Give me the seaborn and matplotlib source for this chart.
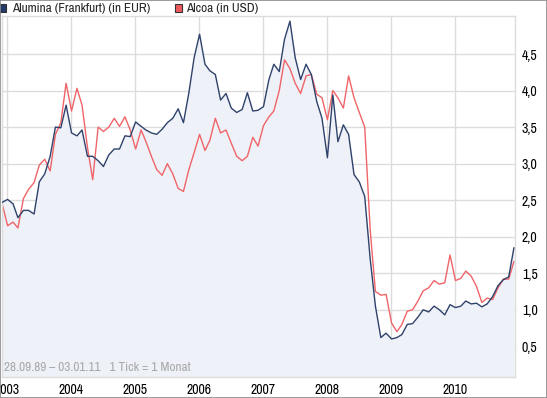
import matplotlib
matplotlib.use("Agg")
import matplotlib.pyplot as plt
import matplotlib.dates as mdates
from matplotlib.patches import Rectangle
from matplotlib.ticker import FuncFormatter
import pandas as pd
import seaborn as sns

# monthly closes, Dec 2002 .. Dec 2010
START = "2002-12-03"
YEARS = list(range(2003, 2011))

alumina_eur = [
    2.47, 2.51, 2.45, 2.26, 2.36, 2.36, 2.31, 2.75, 2.86, 3.10,
    3.50, 3.49, 3.80, 3.42, 3.38, 3.46, 3.10, 3.10, 3.04, 2.96,
    3.12, 3.20, 3.20, 3.38, 3.37, 3.57, 3.51, 3.46, 3.42, 3.40,
    3.47, 3.56, 3.62, 3.75, 3.56, 3.97, 4.45, 4.77, 4.36, 4.27,
    4.22, 3.87, 3.96, 3.76, 3.70, 3.74, 3.97, 3.72, 3.73, 3.78,
    4.15, 4.36, 4.26, 4.70, 4.95, 4.45, 4.15, 4.36, 4.22, 3.85,
    3.62, 3.08, 3.94, 3.30, 3.53, 3.40, 2.85, 2.75, 2.55, 1.70,
    1.05, 0.62, 0.68, 0.60, 0.62, 0.66, 0.80, 0.81, 0.90, 1.00,
    0.97, 1.05, 1.00, 0.93, 1.07, 1.03, 1.05, 1.12, 1.08, 1.09,
    1.04, 1.08, 1.18, 1.33, 1.41, 1.45, 1.85,
]

alcoa_usd = [
    2.45, 2.15, 2.20, 2.12, 2.52, 2.65, 2.74, 2.98, 3.06, 2.90,
    3.40, 3.56, 4.10, 3.72, 4.03, 3.80, 3.22, 2.78, 3.50, 3.44,
    3.50, 3.62, 3.51, 3.64, 3.46, 3.20, 3.46, 3.30, 3.10, 2.92,
    2.84, 3.00, 2.86, 2.66, 2.62, 2.92, 3.15, 3.40, 3.18, 3.32,
    3.62, 3.42, 3.46, 3.28, 3.10, 3.04, 3.10, 3.36, 3.24, 3.52,
    3.64, 3.72, 4.00, 4.42, 4.30, 4.10, 3.96, 4.20, 4.22, 3.95,
    3.90, 3.60, 4.00, 3.90, 3.76, 4.20, 3.90, 3.70, 3.50, 2.10,
    1.25, 1.20, 1.21, 0.82, 0.70, 0.80, 0.98, 1.00, 1.12, 1.26,
    1.30, 1.40, 1.35, 1.37, 1.75, 1.40, 1.43, 1.53, 1.46, 1.32,
    1.10, 1.16, 1.14, 1.30, 1.42, 1.42, 1.66,
]

y_ticks = [0.5, 1.0, 1.5, 2.0, 2.5, 3.0, 3.5, 4.0, 4.5]

NAVY = "#2f426b"
RED = "#f06468"
FILL = "#eef1f8"
GRID = "#dcdcdc"
FONT = ["Archivo Narrow", "Liberation Sans", "DejaVu Sans"]

dates = pd.date_range(START, periods=len(alumina_eur), freq=pd.DateOffset(months=1))
df = pd.DataFrame({"date": dates, "alumina": alumina_eur, "alcoa": alcoa_usd})

sns.set_theme(style="white")
plt.rcParams["font.family"] = FONT

fig = plt.figure(figsize=(5.47, 3.98), dpi=100)
W, H = 547, 398
ax = fig.add_axes([2 / W, 1 - 377 / H, 513 / W, 361 / H])

ax.fill_between(df["date"], df["alumina"], 0, color=FILL, lw=0, zorder=1)
sns.lineplot(data=df, x="date", y="alumina", ax=ax, color=NAVY, lw=1.0, zorder=3)
sns.lineplot(data=df, x="date", y="alcoa", ax=ax, color=RED, lw=1.0, zorder=2)

ax.set_xlim(pd.Timestamp("2002-12-02"), pd.Timestamp("2010-12-09"))
ax.set_ylim(0.08, 5.02)

ax.set_xticks([pd.Timestamp(f"{y}-01-01") for y in YEARS])
ax.xaxis.set_major_formatter(mdates.DateFormatter("%Y"))
ax.set_yticks(y_ticks)
ax.yaxis.set_major_formatter(FuncFormatter(lambda v, _: f"{v:.1f}".replace(".", ",")))
ax.yaxis.tick_right()
ax.tick_params(axis="both", length=0, labelsize=10, colors="black")
ax.tick_params(axis="y", pad=5)
ax.tick_params(axis="x", pad=4)
ax.grid(True, color=GRID, lw=1.0, zorder=0)
ax.set_axisbelow(True)
ax.set_xlabel("")
ax.set_ylabel("")
for side in ["top", "bottom", "left", "right"]:
    ax.spines[side].set_color(GRID)
    ax.spines[side].set_linewidth(1.0)

ax.text(0.003, 0.012, "28.09.89 \u2013 03.01.11   1 Tick = 1 Monat", transform=ax.transAxes,
        fontsize=9.5, color="#a8a8a8", ha="left", va="bottom")

# legend row at the top
fig.add_artist(Rectangle((-1 / W, 1 - 12 / H), 7 / W, 8 / H, transform=fig.transFigure,
                         facecolor="#233a6a", edgecolor="#333333", lw=0.8))
fig.text(12 / W, 1 - 8 / H, "Alumina (Frankfurt) (in EUR)", fontsize=9.5, va="center", ha="left")
fig.add_artist(Rectangle((175 / W, 1 - 12 / H), 7 / W, 8 / H, transform=fig.transFigure,
                         facecolor="#f05a5e", edgecolor="#333333", lw=0.8))
fig.text(186 / W, 1 - 8 / H, "Alcoa (in USD)", fontsize=9.5, va="center", ha="left")

# outer frame
fig.add_artist(Rectangle((0, 0), 1, 1, transform=fig.transFigure, fill=False,
                         edgecolor="#8a8a8a", lw=1.2))

fig.savefig("out.png", dpi=100)
